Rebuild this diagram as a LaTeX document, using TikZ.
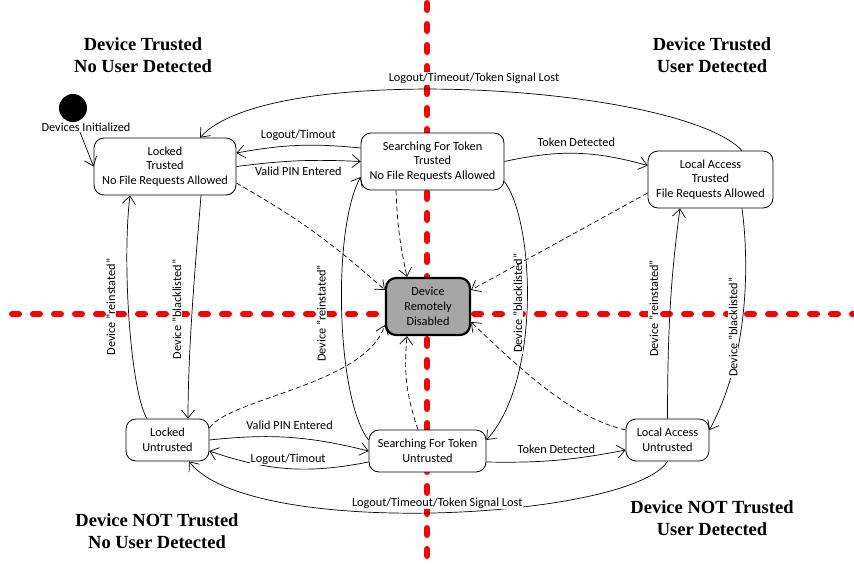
\documentclass[tikz,border=0pt]{standalone}
\usepackage{fontspec}
\setmainfont{Carlito}
\newfontfamily\headfont{Liberation Serif}
\usetikzlibrary{positioning, arrows.meta, backgrounds}

\begin{document}
\begin{tikzpicture}[x=1pt, y=-1pt, >={Straight Barb[length=8pt,width=13pt]},
        every node/.style={font=\fontsize{12.3}{14.7}\selectfont, align=center},
        statebox/.style={draw, rounded corners=10pt, line width=0.8pt, fill=white, inner sep=0pt},
        lbl/.style={fill=white, inner sep=1pt},
        vlbl/.style={fill=white, inner sep=1pt, rotate=90, anchor=south},
        conn/.style={->, line width=0.7pt},
        dashconn/.style={->, line width=0.7pt, dash pattern=on 5pt off 3pt},
        zone/.style={font=\headfont\bfseries\fontsize{18.5}{22}\selectfont},
        divider/.style={red, line width=6pt, line cap=round, dash pattern=on 7pt off 14pt}]
    \useasboundingbox (0,0) rectangle (854,563);

    % quadrant titles
    \node[zone] (zoneTN) at (143,55) {Device Trusted\\No User Detected};
    \node[zone] (zoneTU) at (712,55) {Device Trusted\\User Detected};
    \node[zone] (zoneNN) at (157,531) {Device NOT Trusted\\No User Detected};
    \node[zone] (zoneNU) at (712,518) {Device NOT Trusted\\User Detected};

    % states
    \node[circle, fill=black, minimum size=28pt, inner sep=0pt] (initDot) at (73,108) {};
    \node[below=1pt of initDot, xshift=13pt, inner sep=0pt] (initLbl) {Devices Initialized};
    \node[statebox, minimum width=142pt, minimum height=57pt] (lockT) at (165,166.5) {Locked\\Trusted\\No File Requests Allowed};
    \node[statebox, minimum width=143pt, minimum height=57pt] (searchT) at (432.5,161.5) {Searching For Token\\Trusted\\No File Requests Allowed};
    \node[statebox, minimum width=125pt, minimum height=57pt] (locT) at (710.5,179.5) {Local Access\\Trusted\\File Requests Allowed};
    \node[statebox, minimum width=84pt, minimum height=57pt, fill=black!35, line width=2.2pt] (disabled) at (428,306.5) {Device\\Remotely\\Disabled};
    \node[statebox, minimum width=83pt, minimum height=42pt] (lockU) at (167.5,440) {Locked\\Untrusted};
    \node[statebox, minimum width=117pt, minimum height=42pt] (searchU) at (427.5,451) {Searching For Token\\Untrusted};
    \node[statebox, minimum width=83pt, minimum height=42pt] (locU) at (667.5,440) {Local Access\\Untrusted};

    % trusted row
    \draw[conn] ([xshift=-6pt]initLbl.south) -- (lockT.west);
    \draw[conn] ([xshift=31.5pt]locT.north) .. controls +(-62,-66) and +(70,-78) .. ([xshift=35pt]lockT.north)
        node[lbl, pos=0.5, above=5pt] (lostT) {Logout/Timeout/Token Signal Lost};
    \draw[conn] ([yshift=13.5pt]searchT.west) to[bend right=8] node[lbl, above=3pt] (logoutT) {Logout/Timout} ([yshift=13.5pt]lockT.east);
    \draw[conn] (lockT.east) to[bend left=5] node[lbl, below=5pt] (pinT) {Valid PIN Entered} (searchT.west);
    \draw[conn] (searchT.east) to[bend left=14] node[lbl, above=5pt] (tokenT) {Token Detected} ([yshift=14pt]locT.west);

    % untrusted row
    \draw[conn] (lockU.east) to[bend left=10] node[lbl, above=6pt] (pinU) {Valid PIN Entered} (searchU.west);
    \draw[conn] ([yshift=-11pt]searchU.west) to[bend left=15] node[lbl, above=3pt] (logoutU) {Logout/Timout} ([yshift=-11pt]lockU.east);
    \draw[conn] ([yshift=-11pt]searchU.east) to[bend right=6] node[lbl, above=5pt] (tokenU) {Token Detected} ([yshift=-10pt]locU.west);
    \draw[conn] (locU.south) .. controls +(-37,58) and +(61,79) .. ([xshift=21.5pt]lockU.south)
        node[lbl, pos=0.5, above=3pt] (lostU) {Logout/Timeout/Token Signal Lost};

    % blacklisted / reinstated
    \draw[conn] ([xshift=-20.5pt]lockU.north) .. controls +(-17,-29) and +(-8,65) .. ([xshift=-35pt]lockT.south)
        node[vlbl, pos=0.55, outer sep=12pt] (reinL) {Device "reinstated"};
    \draw[conn] ([xshift=36pt]lockT.south) .. controls +(-3,40) and +(0,-80) .. ([xshift=20.5pt]lockU.north)
        node[vlbl, pos=0.57, outer sep=10pt] (blackL) {Device "blacklisted"};
    \draw[conn] ([yshift=11pt]searchU.west) .. controls +(-32,-40) and +(-29,53) .. ([yshift=-15.5pt]searchT.west)
        node[vlbl, pos=0.5, outer sep=15pt] (reinM) {Device "reinstated"};
    \draw[conn] ([yshift=-20pt]searchT.east) .. controls +(30,40) and +(55,-60) .. ([yshift=11pt]searchU.east)
        node[vlbl, pos=0.5, outer sep=4pt] (blackM) {Device "blacklisted"};
    \draw[conn] (locU.north) .. controls +(0,-100) and +(-8,60) .. ([xshift=-30.5pt]locT.south)
        node[vlbl, pos=0.45, outer sep=11pt] (reinR) {Device "reinstated"};
    \draw[conn] ([xshift=31.5pt]locT.south) .. controls +(8,60) and +(38,-70) .. ([yshift=10pt]locU.east)
        node[vlbl, pos=0.55, outer sep=3pt] (blackR) {Device "blacklisted"};

    % remote disable
    \draw[dashconn] ([yshift=-16.5pt]lockT.east) to[bend left=6] ([yshift=16.5pt]disabled.west);
    \draw[dashconn] ([xshift=-36.5pt]searchT.south) to[bend right=5] ([xshift=-21pt]disabled.north);
    \draw[dashconn] ([yshift=-13.5pt]locT.west) -- ([yshift=16.5pt]disabled.east);
    \draw[dashconn] ([yshift=12pt]lockU.east) .. controls +(20,-30) and +(-20,60) .. ([yshift=-18.5pt]disabled.west);
    \draw[dashconn] ([xshift=-9.5pt]searchU.north) to[bend left=12] ([xshift=-21pt]disabled.south);
    \draw[dashconn] ([yshift=10pt]locU.west) .. controls +(-50,-12) and +(60,58) .. ([yshift=-15.5pt]disabled.east);

    % quadrant borders
    \begin{scope}[on background layer]
        \draw[divider] (427,3) -- (427,563);
        \draw[divider] (12,314) -- (854,314);
    \end{scope}
\end{tikzpicture}
\end{document}
